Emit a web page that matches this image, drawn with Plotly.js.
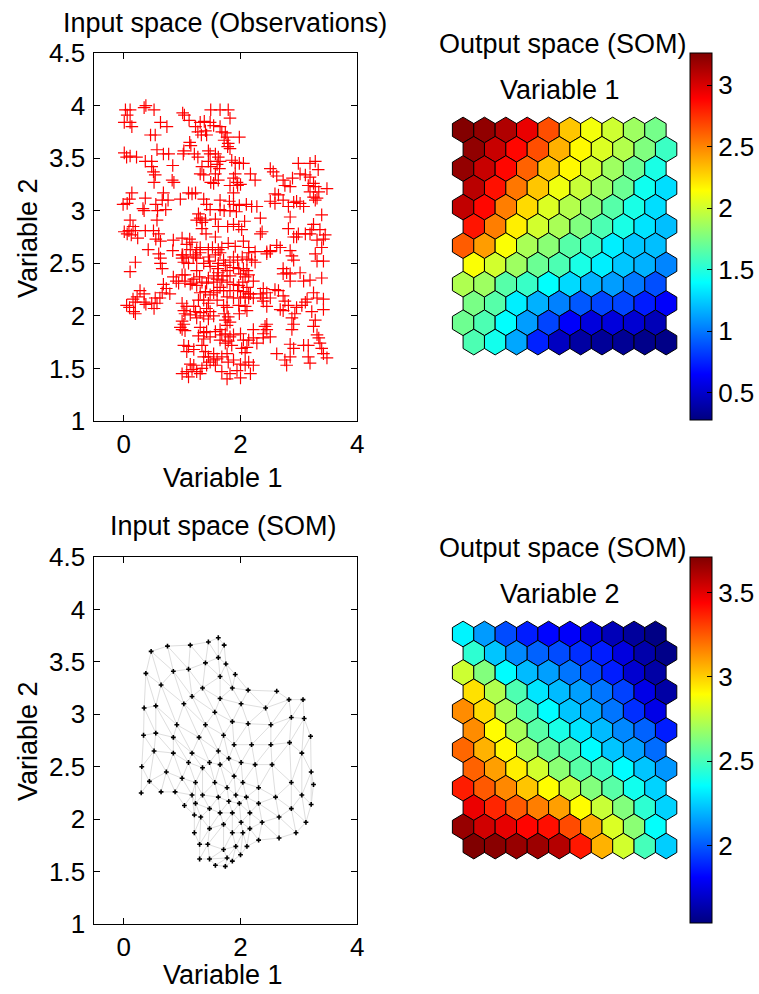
<!DOCTYPE html>
<html><head><meta charset="utf-8">
<script src="https://cdn.plot.ly/plotly-3.0.1.min.js"></script>
<style>html,body{margin:0;padding:0;background:#fff}</style>
</head><body><div id="chart" style="width:759px;height:994px"></div>
<script>
// ---- Observations (input space) ----
const obsX = [0.03,0.11,0.06,0.01,0.11,0.14,0.35,0.52,0.38,0.63,0.74,0.46,0.54,0.01,0.05,0.11,0.22,0.37,0.48,0.57,0.68,0.77,0.48,0.51,0.54,0.52,0.84,0.83,0.86,0.14,0.10,-0.01,0.06,0.37,0.33,0.35,0.55,0.68,0.66,0.76,0.72,0.11,0.16,0.09,0.01,0.06,0.13,0.20,0.24,0.37,0.51,0.60,0.55,0.63,0.42,0.57,0.58,0.60,0.63,0.66,0.63,0.20,0.11,0.85,0.84,1.0,1.01,1.0,1.07,0.28,0.35,0.23,0.16,0.2,0.05,0.1,0.17,0.2,0.35,0.38,0.54,0.48,0.52,0.57,0.68,0.73,0.79,0.66,0.62,0.85,0.9,0.94,1.0,1.05,1.17,1.25,
1.04,1.12,1.01,1.23,1.27,1.33,1.42,1.40,1.31,1.38,1.48,1.54,1.65,1.49,1.65,1.79,1.82,1.68,1.74,1.77,1.72,1.79,1.78,1.82,1.98,1.13,1.15,1.03,1.02,1.21,1.27,1.45,1.48,1.57,1.62,1.65,1.45,1.49,1.60,1.64,1.57,1.62,1.49,1.54,1.34,1.31,1.37,1.85,1.91,1.98,2.05,1.91,1.88,1.94,1.82,1.95,2.0,2.17,2.25,1.23,1.11,1.17,1.37,1.42,1.48,0.97,1.65,1.81,1.88,1.65,1.72,1.82,1.93,1.88,1.98,2.10,2.19,2.28,1.28,1.31,1.25,1.34,1.40,1.57,1.34,1.41,1.57,1.62,1.78,1.88,1.97,2.02,2.07,2.34,2.37,2.34,1.13,1.17,1.08,1.14,1.25,1.31,1.45,1.52,1.62,1.68,1.79,1.91,2.05,2.14,
1.0,1.03,1.11,1.19,1.23,1.25,1.37,1.31,1.45,1.47,1.48,1.57,1.65,1.62,1.61,1.71,1.74,1.82,1.88,1.95,2.03,2.11,2.19,2.25,1.88,1.97,2.05,2.11,2.0,2.08,2.14,1.62,1.70,1.77,1.82,1.60,1.68,1.77,1.54,1.45,1.54,1.42,1.34,1.25,1.30,1.20,1.14,1.05,1.88,1.97,2.04,2.11,1.95,2.05,2.14,1.82,1.65,1.71,1.60,1.31,1.40,1.48,1.54,1.28,1.37,1.45,1.60,1.77,1.88,2.0,2.08,2.14,2.17,1.97,2.08,2.11,1.98,1.71,1.77,1.72,1.79,1.74,1.82,1.77,1.0,1.08,1.03,1.05,1.20,1.23,1.14,1.31,1.37,1.25,1.42,1.48,1.54,1.45,1.0,1.03,0.97,1.0,1.05,1.31,1.37,1.28,1.37,1.42,1.48,1.57,1.65,1.68,1.74,1.82,1.65,1.74,1.79,1.85,1.88,2.0,2.05,2.14,2.22,2.02,2.08,2.11,1.03,1.08,1.11,1.20,1.34,1.40,1.37,1.45,1.54,1.60,1.54,1.68,1.77,1.79,1.88,2.0,2.08,2.14,2.22,1.0,1.08,1.11,1.17,1.25,1.31,1.14,1.20,1.34,1.42,1.48,1.57,1.68,1.77,1.82,1.94,2.0,2.17,2.22,2.28,2.45,2.39,2.51,2.22,2.34,2.37,2.39,2.45,2.51,2.22,2.25,2.14,2.45,2.51,
2.51,2.56,2.62,2.73,2.76,2.85,2.89,2.99,3.02,3.11,3.19,3.25,3.16,3.28,3.19,3.28,3.33,3.48,2.59,2.65,2.51,2.59,2.73,2.82,2.91,2.96,3.02,3.08,3.19,3.25,3.31,3.34,3.28,3.39,3.25,3.36,3.45,3.42,3.22,2.85,2.99,2.96,3.11,3.19,3.31,3.39,2.82,2.91,2.62,2.68,2.51,2.45,2.85,2.88,2.91,3.28,3.31,3.42,2.73,2.79,2.85,2.73,3.02,3.08,2.85,3.19,3.39,3.25,3.31,3.42,3.14,3.05,3.11,2.59,2.65,2.73,2.76,2.68,2.73,2.82,2.96,2.93,2.88,2.91,2.88,3.22,3.28,3.25,3.42,2.42,2.45,2.39,2.62,2.76,2.85,3.31,3.34,3.36,3.39,3.42,3.48,3.08,3.16,2.85,2.91,3.16,3.19,2.79,2.45,2.39];
const obsY = [3.96,3.96,3.91,3.84,3.84,3.80,3.98,3.96,4.0,3.84,3.80,3.72,3.72,3.55,3.51,3.52,3.51,3.47,3.47,3.58,3.54,3.54,3.42,3.37,3.34,3.27,3.43,3.29,3.27,3.17,3.11,3.06,3.07,3.12,3.02,3.0,3.06,3.17,3.10,3.10,3.01,2.91,2.85,2.81,2.80,2.78,2.77,2.81,2.74,2.81,2.81,2.78,2.73,2.71,2.63,2.91,3.0,2.59,2.55,2.45,2.50,2.51,2.42,2.72,2.62,2.74,2.58,2.55,2.56,2.24,2.21,2.18,2.16,2.13,2.10,2.08,2.04,2.02,2.13,2.11,2.17,2.12,2.07,2.12,2.30,2.26,2.21,2.22,2.17,2.37,2.33,2.31,2.39,2.33,2.31,2.29,
3.91,3.86,3.93,3.80,3.75,3.72,3.72,3.76,3.84,3.85,3.84,3.81,3.80,3.96,3.96,3.96,3.88,3.75,3.74,3.70,3.67,3.64,3.61,3.59,3.70,3.65,3.62,3.57,3.54,3.54,3.51,3.57,3.54,3.54,3.51,3.47,3.47,3.42,3.44,3.40,3.35,3.29,3.27,3.26,3.42,3.35,3.34,3.48,3.46,3.45,3.45,3.35,3.31,3.27,3.24,3.24,3.25,3.35,3.29,3.17,3.17,3.16,3.11,3.06,3.01,3.11,3.10,3.09,3.17,3.01,3.0,3.0,2.99,3.06,3.05,3.06,3.04,3.04,2.97,2.93,2.91,2.89,2.91,2.92,2.83,2.78,2.75,2.85,2.85,2.87,2.85,2.82,2.90,2.93,2.80,2.78,2.73,2.70,2.68,2.63,2.63,2.65,2.63,2.65,2.63,2.65,2.69,2.66,2.71,2.65,
2.58,2.51,2.50,2.56,2.58,2.55,2.50,2.60,2.56,2.52,2.47,2.58,2.60,2.50,2.45,2.53,2.48,2.51,2.56,2.53,2.56,2.54,2.53,2.51,2.46,2.45,2.45,2.43,2.40,2.37,2.39,2.41,2.38,2.43,2.38,2.35,2.34,2.32,2.38,2.36,2.32,2.31,2.32,2.43,2.37,2.35,2.30,2.39,2.30,2.29,2.32,2.27,2.24,2.23,2.21,2.24,2.27,2.24,2.24,2.22,2.23,2.20,2.22,2.15,2.15,2.12,2.15,2.18,2.17,2.17,2.18,2.17,2.21,2.10,2.09,2.05,2.02,2.10,2.08,2.02,1.99,1.96,1.94,1.91,2.12,2.09,2.05,2.02,2.09,2.04,2.01,2.03,2.0,1.98,2.07,2.04,2.0,1.97,1.95,1.92,1.89,1.87,1.86,1.89,1.84,1.81,1.78,1.85,1.80,1.85,1.87,1.82,1.83,1.80,1.77,1.74,1.76,1.72,1.82,1.83,1.77,1.77,1.79,1.69,1.65,1.70,1.72,1.66,1.71,1.68,1.72,1.66,1.61,1.61,1.64,1.59,1.58,1.61,1.64,1.56,1.58,1.54,1.53,1.56,1.53,1.45,1.47,1.42,1.49,1.47,1.45,1.54,1.53,1.50,1.53,1.56,1.53,1.47,1.40,1.45,1.48,1.41,1.45,1.87,1.74,1.92,1.83,1.80,2.17,2.21,2.17,2.14,2.09,2.17,2.33,2.61,2.60,2.61,2.62,
3.40,3.37,3.33,3.29,3.24,3.23,3.31,3.45,3.35,3.34,3.32,3.26,3.24,3.23,3.45,3.47,3.39,3.21,3.16,3.15,3.09,3.07,3.10,3.04,3.08,3.09,3.07,3.04,3.18,3.13,3.12,3.18,3.10,2.96,2.87,2.82,2.77,2.73,2.82,2.94,2.78,2.75,2.78,2.78,2.72,2.65,2.83,2.75,2.67,2.65,2.61,2.59,2.62,2.57,2.53,2.59,2.52,2.52,2.45,2.41,2.40,2.40,2.41,2.33,2.33,2.34,2.36,2.22,2.17,2.16,2.16,2.10,2.13,2.25,2.24,2.19,2.14,2.06,2.05,2.10,2.08,2.02,1.98,1.92,1.87,2.04,1.96,1.90,2.06,1.90,1.87,1.79,1.64,1.58,1.61,1.82,1.79,1.74,1.69,1.64,1.60,1.72,1.72,1.73,1.69,1.61,1.55,1.53,2.22,2.26];

// ---- SOM codebook (12 rows x 10 columns), read from the component planes ----
const somVar1 = [
 [3.25,3.21,3.12,2.95,2.66,2.31,2.11,2.00,1.86,1.74],
 [3.21,3.05,2.87,2.66,2.37,2.16,2.04,1.92,1.77,1.57],
 [3.20,3.05,2.87,2.60,2.31,2.16,2.01,1.86,1.71,1.47],
 [3.09,2.84,2.54,2.31,2.10,1.98,1.86,1.71,1.44,1.30],
 [3.07,2.87,2.52,2.25,2.04,1.92,1.80,1.65,1.47,1.30],
 [2.83,2.52,2.19,2.01,1.89,1.77,1.62,1.47,1.32,1.21],
 [2.62,2.43,2.13,1.89,1.80,1.65,1.56,1.35,1.23,1.21],
 [2.13,2.01,1.86,1.71,1.62,1.47,1.35,1.23,1.17,1.04],
 [1.91,1.86,1.65,1.56,1.40,1.29,1.17,1.11,1.00,0.88],
 [1.75,1.65,1.35,1.17,1.03,0.91,0.85,0.85,0.73,0.64],
 [1.72,1.62,1.40,1.11,0.85,0.64,0.55,0.55,0.52,0.44],
 [1.62,1.45,1.14,0.75,0.47,0.38,0.35,0.34,0.31,0.30]];
const somVar2 = [
 [2.33,2.14,1.97,1.87,1.82,1.80,1.74,1.66,1.60,1.55],
 [2.45,2.23,2.10,2.02,1.97,1.91,1.87,1.74,1.63,1.56],
 [2.79,2.63,2.35,2.21,2.15,2.06,1.97,1.87,1.71,1.62],
 [2.96,2.73,2.52,2.30,2.21,2.15,2.06,1.95,1.76,1.62],
 [3.14,2.97,2.71,2.52,2.35,2.23,2.17,2.06,1.91,1.76],
 [3.14,2.90,2.71,2.54,2.41,2.30,2.21,2.10,2.02,1.87],
 [3.22,3.06,2.91,2.71,2.58,2.52,2.35,2.23,2.15,2.04],
 [3.23,3.10,2.93,2.80,2.65,2.54,2.49,2.35,2.23,2.13],
 [3.38,3.25,3.15,3.02,2.90,2.78,2.63,2.54,2.39,2.26],
 [3.48,3.36,3.25,3.17,3.10,2.90,2.78,2.63,2.45,2.26],
 [3.66,3.54,3.49,3.43,3.41,3.28,3.08,2.82,2.65,2.36],
 [3.73,3.69,3.66,3.65,3.60,3.39,3.06,2.80,2.50,2.25]];

const cbRange1 = [0.28, 3.26];
const cbTicks1 = [0.5, 1, 1.5, 2, 2.5, 3];
const cbRange2 = [1.54, 3.71];
const cbTicks2 = [2, 2.5, 3, 3.5];
const xTicks = [0, 2, 4];
const yTicks = [1, 1.5, 2, 2.5, 3, 3.5, 4, 4.5];

// ---- helpers ----
const W = 759, H = 994;
const fx = p => p / W;
const fy = p => 1 - p / H;
const FONT = 'Liberation Sans, Arial, Helvetica, sans-serif';
const jetStops = [[0,[0,0,128]],[0.125,[0,0,255]],[0.375,[0,255,255]],[0.625,[255,255,0]],[0.875,[255,0,0]],[1,[128,0,0]]];
const jetScale = jetStops.map(s => [s[0], 'rgb(' + s[1].join(',') + ')']);
function jet(v, lo, hi) {
  let t = Math.max(0, Math.min(1, (v - lo) / (hi - lo)));
  for (let k = 1; k < jetStops.length; k++) {
    if (t <= jetStops[k][0]) {
      const a = jetStops[k-1], b = jetStops[k];
      const u = (t - a[0]) / (b[0] - a[0]);
      const c = a[1].map((ch, m) => Math.round(ch + (b[1][m] - ch) * u));
      return 'rgb(' + c.join(',') + ')';
    }
  }
  return 'rgb(128,0,0)';
}

const traces = [];
// top-left scatter
traces.push({type:'scatter', mode:'markers', x: obsX, y: obsY, xaxis:'x', yaxis:'y',
  marker:{symbol:'cross-thin', size:9, color:'#ff0000', line:{color:'#ff0000', width:1.2}}, hoverinfo:'skip'});

// bottom-left SOM grid in input space
const ex = [], ey = [];
const nR = somVar1.length, nC = somVar1[0].length;
function addEdge(i1,j1,i2,j2){
  if (i2 < 0 || i2 >= nR || j2 < 0 || j2 >= nC) return;
  ex.push(somVar1[i1][j1], somVar1[i2][j2], null);
  ey.push(somVar2[i1][j1], somVar2[i2][j2], null);
}
for (let i = 0; i < nR; i++) for (let j = 0; j < nC; j++) {
  addEdge(i,j,i,j+1);
  if (i % 2 === 0) { addEdge(i,j,i+1,j-1); addEdge(i,j,i+1,j); }
  else { addEdge(i,j,i+1,j); addEdge(i,j,i+1,j+1); }
}
traces.push({type:'scatter', mode:'lines', x: ex, y: ey, xaxis:'x2', yaxis:'y2',
  line:{color:'rgb(222,222,222)', width:1}, hoverinfo:'skip'});
traces.push({type:'scatter', mode:'markers', x: somVar1.flat(), y: somVar2.flat(), xaxis:'x2', yaxis:'y2',
  marker:{symbol:'cross', size:4, color:'#000'}, hoverinfo:'skip'});

// hex component planes
const R = 1 / Math.sqrt(3);
function hexPlane(vals, lo, hi, xa, ya, cbY, cbLen, ticks) {
  const cx = [], cy = [], cv = [];
  for (let i = 0; i < nR; i++) for (let j = 0; j < nC; j++) {
    cx.push(j + 1 + (i % 2 ? 0.5 : 0)); cy.push(-i * Math.sqrt(3) / 2); cv.push(vals[i][j]);
  }
  traces.push({type:'scatter', mode:'markers', x: cx, y: cy, xaxis: xa, yaxis: ya, hoverinfo:'skip',
    marker:{size:2, color: cv, cmin: lo, cmax: hi, colorscale: jetScale, showscale: true,
      colorbar:{x: fx(690), xanchor:'left', y: cbY, yanchor:'middle', len: cbLen, lenmode:'fraction',
        thickness: 22, thicknessmode:'pixels', xpad:0, ypad:0, outlinewidth:1, outlinecolor:'#000',
        tickvals: ticks, ticks:'inside', ticklen:5, tickcolor:'#000',
        tickfont:{family: FONT, size: 26, color:'#000'}}}});
  for (let k = 0; k < cx.length; k++) {
    const x0 = cx[k], y0 = cy[k];
    traces.push({type:'scatter', mode:'lines', fill:'toself', xaxis: xa, yaxis: ya, hoverinfo:'skip',
      x:[x0, x0+0.5, x0+0.5, x0, x0-0.5, x0-0.5, x0],
      y:[y0+R, y0+R/2, y0-R/2, y0-R, y0-R/2, y0+R/2, y0+R],
      fillcolor: jet(cv[k], lo, hi), line:{color:'#000', width:1}});
  }
}
hexPlane(somVar1, cbRange1[0], cbRange1[1], 'x3', 'y3', fy((53+420)/2), 367/H, cbTicks1);
hexPlane(somVar2, cbRange2[0], cbRange2[1], 'x4', 'y4', fy((557+923)/2), 366/H, cbTicks2);

const baseAx = {showline:true, mirror:'ticks', linecolor:'#000', linewidth:1, ticks:'inside', ticklen:6,
  tickcolor:'#000', showgrid:false, zeroline:false, tickfont:{family: FONT, size: 26, color:'#000'}, automargin:false, fixedrange:true};
const xDom = [fx(94.6), fx(357.8)];
const hexX = [1 - 23.7/21.4, 1 + 226.3/21.4];
const hexY = [-290/22.26, 30/22.26];
const hidden = {visible:false, fixedrange:true, showgrid:false, zeroline:false};

const ann = (text, x, y, extra) => Object.assign({text, x: fx(x), y: fy(y), xref:'paper', yref:'paper', showarrow:false,
  xanchor:'center', yanchor:'middle', font:{family: FONT, size: 27, color:'#000'}}, extra || {});

const layout = {
  width: W, height: H, margin:{l:0, r:0, t:0, b:0}, showlegend:false,
  paper_bgcolor:'#fff', plot_bgcolor:'rgba(0,0,0,0)',
  xaxis: Object.assign({}, baseAx, {domain: xDom, range:[-0.5, 4], tickvals: xTicks, anchor:'y'}),
  yaxis: Object.assign({}, baseAx, {domain:[fy(421), fy(53)], range:[1, 4.5], tickvals: yTicks, anchor:'x', ticklabelstandoff:3}),
  xaxis2: Object.assign({}, baseAx, {domain: xDom, range:[-0.5, 4], tickvals: xTicks, anchor:'y2'}),
  yaxis2: Object.assign({}, baseAx, {domain:[fy(924), fy(557)], range:[1, 4.5], tickvals: yTicks, anchor:'x2', ticklabelstandoff:3}),
  xaxis3: Object.assign({}, hidden, {domain:[fx(440), fx(690)], range: hexX, anchor:'y3'}),
  yaxis3: Object.assign({}, hidden, {domain:[fy(420), fy(100)], range: hexY, anchor:'x3'}),
  xaxis4: Object.assign({}, hidden, {domain:[fx(440), fx(690)], range: hexX, anchor:'y4'}),
  yaxis4: Object.assign({}, hidden, {domain:[fy(924), fy(604)], range: hexY, anchor:'x4'}),
  annotations: [
    ann('Input space (Observations)', 225, 23),
    ann('Variable 1', 223, 478),
    ann('Variable 2', 28, 238, {textangle:-90}),
    ann('Input space (SOM)', 224, 526),
    ann('Variable 1', 223, 975),
    ann('Variable 2', 28, 741, {textangle:-90}),
    ann('Output space (SOM)', 564, 44),
    ann('Variable 1', 561, 90),
    ann('Output space (SOM)', 564, 548),
    ann('Variable 2', 561, 594)
  ]
};
Plotly.newPlot('chart', traces, layout, {staticPlot:true, displayModeBar:false});
</script></body></html>
